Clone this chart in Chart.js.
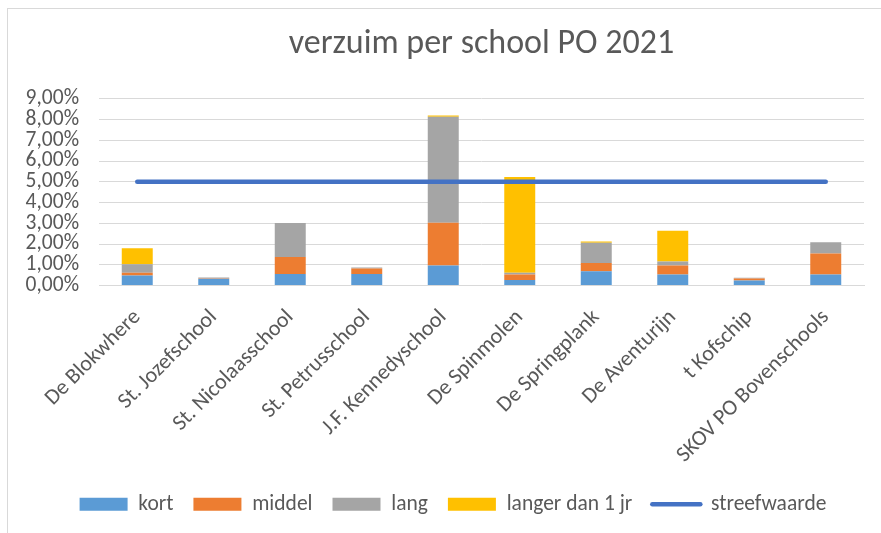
<!DOCTYPE html>
<html>
<head>
<meta charset="utf-8">
<script src="https://cdn.jsdelivr.net/npm/chart.js@4"></script>
<style>
  html, body { margin: 0; background: #fff; overflow: hidden; }
  #frame {
    position: absolute; left: 7px; top: 8px; width: 900px; height: 540px;
    border-top: 1px solid #d9d9d9; border-left: 1px solid #d9d9d9;
  }
  #myChart { position: absolute; left: 0; top: 0; }
</style>
</head>
<body>
<div id="frame"></div>
<!-- a bit wider than the window: the chart runs past the right edge like the screenshot -->
<canvas id="myChart" width="886" height="533"></canvas>
<script>
'use strict';

// schools on the x axis
let schools = [
  'De Blokwhere',
  'St. Jozefschool',
  'St. Nicolaasschool',
  'St. Petrusschool',
  'J.F. Kennedyschool',
  'De Spinmolen',
  'De Springplank',
  'De Aventurijn',
  't Kofschip',
  'SKOV PO Bovenschools'
];

// absence in percent
let kort = [0.48, 0.33, 0.55, 0.55, 0.97, 0.27, 0.69, 0.53, 0.24, 0.53];
let middel = [0.13, 0.02, 0.82, 0.27, 2.05, 0.26, 0.40, 0.43, 0.10, 1.01];
let lang = [0.42, 0.03, 1.64, 0.05, 5.12, 0.08, 0.97, 0.20, 0.03, 0.55];
let langer = [0.77, 0, 0, 0, 0.05, 4.62, 0.06, 1.48, 0, 0];
let streefwaarde = [5, 5, 5, 5, 5, 5, 5, 5, 5, 5];

let yTicks = [0, 1, 2, 3, 4, 5, 6, 7, 8, 9];

let textColor = '#595959';
let gridColor = '#d9d9d9';
let lineColor = '#4472C4';
let fontFamily = "Carlito, 'Open Sans', sans-serif";

function percentLabel(v) {
  return v.toFixed(2).replace('.', ',') + '%';
}

let ctx = document.getElementById('myChart').getContext('2d');

new Chart(ctx, {
  type: 'bar',
  data: {
    labels: schools,
    datasets: [{
      label: 'kort',
      data: kort,
      backgroundColor: '#5B9BD5',
      order: 1
    }, {
      label: 'middel',
      data: middel,
      backgroundColor: '#ED7D31',
      order: 1
    }, {
      label: 'lang',
      data: lang,
      backgroundColor: '#A5A5A5',
      order: 1
    }, {
      label: 'langer dan 1 jr',
      data: langer,
      backgroundColor: '#FFC000',
      order: 1
    }, {
      type: 'line',
      label: 'streefwaarde',
      data: streefwaarde,
      stack: 'target',
      borderColor: lineColor,
      backgroundColor: lineColor,
      borderWidth: 4.5,
      borderCapStyle: 'round',
      pointRadius: 0,
      order: 0
    }]
  },
  options: {
    responsive: false,
    animation: false,
    barPercentage: 0.405,
    categoryPercentage: 1,
    layout: {
      padding: { left: 20, right: 0, top: 0, bottom: 8 }
    },
    plugins: {
      tooltip: { enabled: false },
      title: {
        display: true,
        text: 'verzuim per school PO 2021',
        fullSize: false,
        color: textColor,
        font: { family: fontFamily, size: 34, weight: 'normal' },
        padding: { top: 24, bottom: 34 }
      },
      legend: {
        position: 'bottom',
        labels: {
          color: textColor,
          font: { family: fontFamily, size: 21.5 },
          usePointStyle: true,
          pointStyleWidth: 48,
          boxHeight: 13,
          padding: 20,
          sort: (a, b) => a.datasetIndex - b.datasetIndex,
          generateLabels(chart) {
            let items = Chart.defaults.plugins.legend.labels.generateLabels(chart);
            items.forEach(function (item) {
              if (item.datasetIndex === 4) {
                item.pointStyle = 'line';
                item.lineWidth = 4.5;
                item.lineCap = 'round';
                item.strokeStyle = lineColor;
              } else {
                item.pointStyle = 'rect';
                item.lineWidth = 0;
              }
            });
            return items;
          }
        }
      }
    },
    scales: {
      x: {
        stacked: true,
        grid: { display: false },
        border: { display: true, color: gridColor },
        ticks: {
          color: textColor,
          font: { family: fontFamily, size: 22 },
          minRotation: 45,
          maxRotation: 45,
          padding: 11,
          autoSkip: false
        },
        afterFit(scale) {
          scale.height = 188;
        }
      },
      y: {
        stacked: true,
        min: 0,
        max: 9,
        afterBuildTicks(scale) {
          scale.ticks = yTicks.map(v => ({ value: v }));
        },
        grid: { color: gridColor, lineWidth: 1, drawTicks: false },
        border: { display: false },
        ticks: {
          color: textColor,
          font: { family: fontFamily, size: 21.5 },
          padding: 20,
          autoSkip: false,
          callback: v => percentLabel(v)
        },
        afterFit(scale) {
          scale.width = 79;
        }
      },
      // empty axis on the right, only to push the legend centre to the right
      spacer: {
        position: 'right',
        min: 0,
        max: 1,
        grid: { display: false },
        border: { display: false },
        ticks: { display: false },
        afterFit(scale) {
          scale.width = 22;
        }
      }
    }
  }
});
</script>
</body>
</html>
